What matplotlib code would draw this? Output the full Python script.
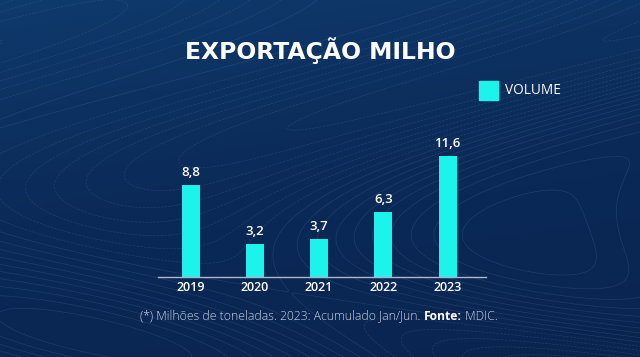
import matplotlib

matplotlib.use("Agg")
import matplotlib.pyplot as plt
import numpy as np
from matplotlib.colors import LinearSegmentedColormap

# data
years = ["2019", "2020", "2021", "2022", "2023"]
volume = [8.8, 3.2, 3.7, 6.3, 11.6]
value_labels = ["8,8", "3,2", "3,7", "6,3", "11,6"]

title = "EXPORTAÇÃO MILHO"
legend_label = "VOLUME"
note_regular = "(*) Milhões de toneladas. 2023: Acumulado Jan/Jun. "
note_bold = "Fonte:"
note_end = " MDIC."

BAR = "#1cf3ea"
W, H, DPI = 640, 357, 100
fam = ["Open Sans", "DejaVu Sans"]

fig = plt.figure(figsize=(W / DPI, H / DPI), dpi=DPI)

# background gradient with faint contour texture
bg = fig.add_axes([0, 0, 1, 1])
bg.set_axis_off()
yy, xx = np.mgrid[0:1:200j, 0:1:360j]
shade = 0.8 * yy + 0.2 * (1 - xx)
cmap = LinearSegmentedColormap.from_list("navy", ["#0a2450", "#0b2a58", "#0f3a6c"])
bg.imshow(shade, cmap=cmap, extent=[0, 1, 0, 1], origin="lower", aspect="auto")
field = np.sin(6 * xx + 3 * np.sin(4 * yy)) + np.cos(5 * yy - 2 * xx)
bg.contour(xx, yy, field, levels=22, colors="#4a6f9e", linewidths=0.5, alpha=0.3)
bg.set_xlim(0, 1)
bg.set_ylim(0, 1)

fig.text(320 / W, 1 - 51 / H, title, ha="center", va="center", color="white",
         fontsize=16.9, fontweight="bold", family=["DejaVu Sans"])

# legend
fig.patches.append(plt.Rectangle((479 / W, 1 - 100 / H), 19 / W, 18.5 / H,
                                 transform=fig.transFigure, color=BAR))
fig.text(505 / W, 1 - 91 / H, legend_label, ha="left", va="center", color="white",
         fontsize=9.8, fontweight="medium", family=fam)

# bars
ax = fig.add_axes([158 / W, 79.7 / H, 328 / W, 147.3 / H])
ax.set_facecolor("none")
x = np.arange(len(years))
bars = ax.bar(x, volume, width=0.28, color=BAR)
ax.set_xlim(-0.507, 4.596)
ax.set_ylim(0, 14.12)
for b, lab in zip(bars, value_labels):
    ax.annotate(lab, (b.get_x() + b.get_width() / 2, b.get_height()),
                xytext=(0, 9), textcoords="offset points", ha="center", va="center",
                color="white", fontsize=9.5, fontweight="semibold", family=fam)

for side in ("top", "right", "left"):
    ax.spines[side].set_visible(False)
ax.spines["bottom"].set_color("#a9b8d0")
ax.spines["bottom"].set_linewidth(1.0)
ax.set_yticks([])
ax.set_xticks(x, labels=years)
ax.tick_params(axis="x", length=0, pad=2.5, colors="white", labelsize=9)
for t in ax.get_xticklabels():
    t.set_fontweight("semibold")
    t.set_family(fam)

# footnote
fs = 8.7
t1 = fig.text(140 / W, 1 - 316 / H, note_regular, ha="left", va="center",
              color="#cdd6e4", fontsize=fs, fontweight="light", family=fam)
fig.canvas.draw()
bb = t1.get_window_extent()
t2 = fig.text(bb.x1 / W, 1 - 316 / H, note_bold, ha="left", va="center",
              color="white", fontsize=fs, fontweight="bold", family=fam)
bb2 = t2.get_window_extent()
fig.text(bb2.x1 / W, 1 - 316 / H, note_end, ha="left", va="center",
         color="#cdd6e4", fontsize=fs, fontweight="light", family=fam)

fig.savefig("out.png", dpi=DPI)
